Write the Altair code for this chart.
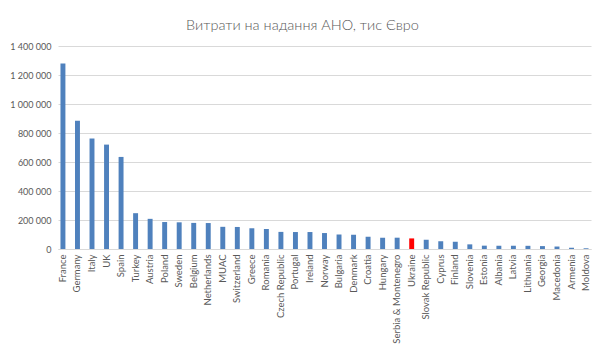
import altair as alt
import pandas as pd

countries = ["France", "Germany", "Italy", "UK", "Spain", "Turkey", "Austria", "Poland",
             "Sweden", "Belgium", "Netherlands", "MUAC", "Switzerland", "Greece", "Romania",
             "Czech Republic", "Portugal", "Ireland", "Norway", "Bulgaria", "Denmark", "Croatia",
             "Hungary", "Serbia & Montenegro", "Ukraine", "Slovak Republic", "Cyprus", "Finland",
             "Slovenia", "Estonia", "Albania", "Latvia", "Lithuania", "Georgia", "Macedonia",
             "Armenia", "Moldova"]
values = [1280000, 885000, 762000, 720000, 635000, 247000, 208000, 186000,
          184000, 180000, 179000, 153000, 152000, 143000, 138000,
          118000, 117000, 117000, 110000, 100000, 99000, 85000,
          78000, 78000, 73000, 64000, 53000, 50000,
          32000, 23000, 23000, 23000, 22000, 20000, 17000,
          8000, 5000]
highlight = ["Ukraine"]

df = pd.DataFrame({"country": countries, "value": values})
df["hl"] = df["country"].isin(highlight)

font = "Lato"

bars = alt.Chart(df).mark_bar().encode(
    x=alt.X("country:N", sort=countries,
            scale=alt.Scale(paddingInner=0.66, paddingOuter=0.17),
            axis=alt.Axis(title=None, labelAngle=-90, labelFontSize=9.5, labelColor="#595959",
                          labelFont=font, ticks=False, domainColor="#D9D9D9", labelPadding=5,
                          labelLimit=200)),
    y=alt.Y("value:Q", scale=alt.Scale(domain=[0, 1400000], nice=False),
            axis=alt.Axis(title=None, values=list(range(0, 1400001, 200000)),
                          labelExpr="replace(format(datum.value, ','), regexp(',', 'g'), ' ')",
                          labelFontSize=9, labelColor="#595959", labelFont=font,
                          ticks=False, domain=False, gridColor="#D9D9D9", labelPadding=7)),
    color=alt.Color("hl:N", scale=alt.Scale(domain=[False, True], range=["#4F81BD", "#FF0000"]),
                    legend=None),
)

chart = bars.properties(
    width=533, height=203,
    autosize=alt.AutoSizeParams(type="none"),
    padding={"left": 50, "top": 38, "right": 5, "bottom": 108},
    title=alt.TitleParams("Витрати на надання АНО, тис Євро", fontSize=14.5, font=font,
                          fontWeight=300, color="#595959", dx=-22, offset=9),
).configure_view(stroke=None)

chart.save("out.html", embed_options={"renderer": "svg", "actions": False})
